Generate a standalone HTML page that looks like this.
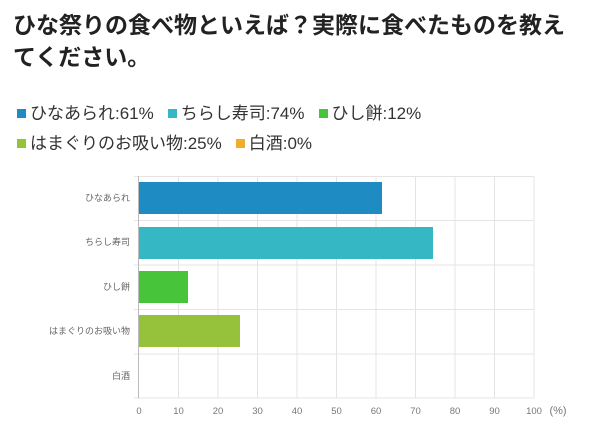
<!DOCTYPE html>
<html><head><meta charset="utf-8"><style>
body{margin:0;width:600px;height:431px;background:#fff;overflow:hidden;font-family:"Liberation Sans","Noto Sans CJK JP",sans-serif;position:relative}
.t{position:absolute;left:13px;top:9px;font-size:23px;font-weight:bold;line-height:32px;color:#222;width:580px;letter-spacing:0px}
.lg{position:absolute;left:17px;font-size:17px;color:#333;white-space:nowrap}
.lg span.s{display:inline-block;width:9px;height:9px;margin-right:4px;vertical-align:1px}
.lg span.i{margin-right:14px}
</style></head><body>
<div class="t">ひな祭りの食べ物といえば？実際に食べたものを教え<br>てください。</div>
<div class="lg" style="top:99px"><span class="i"><span class="s" style="background:#1e8bc3"></span>ひなあられ:61%</span><span class="i"><span class="s" style="background:#35b8c4"></span>ちらし寿司:74%</span><span class="i"><span class="s" style="background:#48c43a"></span>ひし餅:12%</span></div>
<div class="lg" style="top:129px"><span class="i"><span class="s" style="background:#95c23a"></span>はまぐりのお吸い物:25%</span><span class="i"><span class="s" style="background:#f0ae28"></span>白酒:0%</span></div>
<svg width="600" height="431" style="position:absolute;left:0;top:0" font-family="Liberation Sans, Noto Sans CJK JP, sans-serif">
<g stroke="#e4e4e4" stroke-width="1">
<line x1="178.5" y1="176" x2="178.5" y2="398"/><line x1="218" y1="176" x2="218" y2="398"/><line x1="257.5" y1="176" x2="257.5" y2="398"/><line x1="297" y1="176" x2="297" y2="398"/><line x1="336.5" y1="176" x2="336.5" y2="398"/><line x1="376" y1="176" x2="376" y2="398"/><line x1="415.5" y1="176" x2="415.5" y2="398"/><line x1="455" y1="176" x2="455" y2="398"/><line x1="494.5" y1="176" x2="494.5" y2="398"/><line x1="534" y1="176" x2="534" y2="398"/>
<line x1="134" y1="176.5" x2="534" y2="176.5"/><line x1="134" y1="220.5" x2="534" y2="220.5"/><line x1="134" y1="265" x2="534" y2="265"/><line x1="134" y1="309.5" x2="534" y2="309.5"/><line x1="134" y1="354" x2="534" y2="354"/><line x1="134" y1="398" x2="534" y2="398"/>
</g>
<line x1="138.5" y1="176" x2="138.5" y2="398" stroke="#bbb"/>
<rect x="139" y="182" width="243" height="32" fill="#1e8bc3"/>
<rect x="139" y="227" width="294" height="32" fill="#35b8c4"/>
<rect x="139" y="271" width="49" height="32" fill="#48c43a"/>
<rect x="139" y="315" width="101" height="32" fill="#95c23a"/>
<g font-size="9" fill="#666" text-anchor="end">
<text x="130" y="201">ひなあられ</text><text x="130" y="245">ちらし寿司</text><text x="130" y="290">ひし餅</text><text x="130" y="334">はまぐりのお吸い物</text><text x="130" y="379">白酒</text>
</g>
<g font-size="9.5" fill="#777" text-anchor="middle">
<text x="139" y="414">0</text><text x="178.5" y="414">10</text><text x="218" y="414">20</text><text x="257.5" y="414">30</text><text x="297" y="414">40</text><text x="336.5" y="414">50</text><text x="376" y="414">60</text><text x="415.5" y="414">70</text><text x="455" y="414">80</text><text x="494.5" y="414">90</text><text x="534" y="414">100</text>
<text x="558" y="414" font-size="11">(%)</text>
</g>
</svg>
</body></html>
